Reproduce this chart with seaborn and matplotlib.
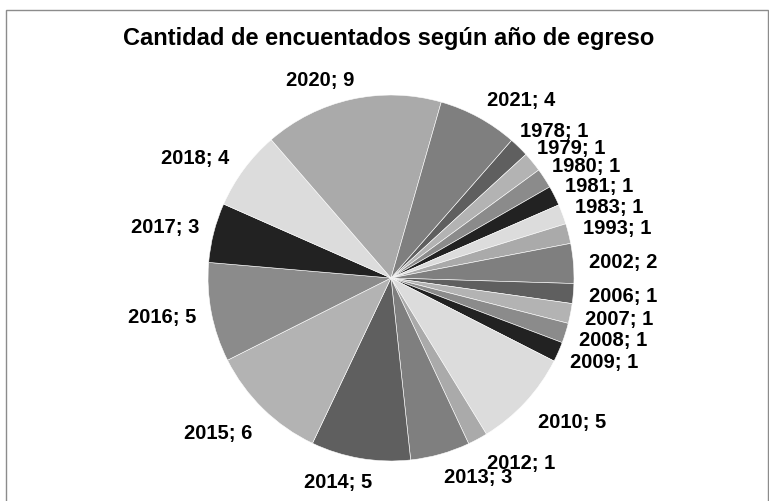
import matplotlib
matplotlib.use("Agg")
import matplotlib.pyplot as plt
from matplotlib.patches import Rectangle
import numpy as np
import seaborn as sns

# Respondents per graduation year
years = ["1978", "1979", "1980", "1981", "1983", "1993", "2002", "2006", "2007",
         "2008", "2009", "2010", "2012", "2013", "2014", "2015", "2016", "2017",
         "2018", "2020", "2021"]
counts = [1, 1, 1, 1, 1, 1, 2, 1, 1, 1, 1, 5, 1, 3, 5, 6, 5, 3, 4, 9, 4]
title = "Cantidad de encuentados según año de egreso"

sns.set_theme(style="white")
plt.rcParams["font.family"] = ["Liberation Sans", "DejaVu Sans"]

W, H = 769, 502
fig = plt.figure(figsize=(W / 100, H / 100), dpi=100)
fig.patch.set_facecolor("white")

# pie placement in pixels
cx, cy, R = 391, 279, 183
ax = fig.add_axes([(cx - R) / W, (H - cy - R) / H, 2 * R / W, 2 * R / H])

grays = ["#5f5f5f", "#b3b3b3", "#8b8b8b", "#222222", "#dcdcdc", "#aaaaaa", "#7f7f7f"]
palette = sns.color_palette(grays)
colors = [palette[i % len(palette)] for i in range(len(counts))]

first_angle = 41.2  # degrees clockwise from 12 o'clock
ax.pie(counts, colors=colors, startangle=90 - first_angle, counterclock=False,
       wedgeprops=dict(edgecolor="white", linewidth=0.4))
ax.set_xlim(-1, 1)
ax.set_ylim(-1, 1)
ax.set_aspect("equal")
ax.axis("off")

# data labels outside each wedge ("year; count")
gap, half_w, half_h = 15, 35, 8
nudges = {"2020": (-20, 3), "2021": (19, 2), "2012": (20, 3), "2013": (24, 0),
          "2014": (-14, 0), "2015": (-10, 7), "2010": (10, 4), "2018": (-8, 2)}
total = sum(counts)
cum = np.cumsum([0] + counts[:-1])
for yr, v, c0 in zip(years, counts, cum):
    theta = np.radians(first_angle + 360 * (c0 + v / 2) / total)
    s, co = np.sin(theta), np.cos(theta)
    nx, ny = nudges.get(yr, (0, 0))
    px = (R + gap) * s + half_w * s + nx
    py = (R + gap) * co + half_h * co - ny
    ax.text(px / R, py / R, f"{yr}; {v}", ha="center", va="center",
            fontsize=14.5, fontweight="bold", color="black")

fig.text(0.506, 1 - 38 / H, title, ha="center", va="center",
         fontsize=17, fontweight="bold", color="black")

# chart-area frame
fig.add_artist(Rectangle((5.5 / W, -0.01), (767.5 - 5.5) / W, 1 - 10.5 / H + 0.01,
                         transform=fig.transFigure, fill=False,
                         edgecolor="#8c8c8c", linewidth=1))

fig.savefig("out.png", dpi=100)
